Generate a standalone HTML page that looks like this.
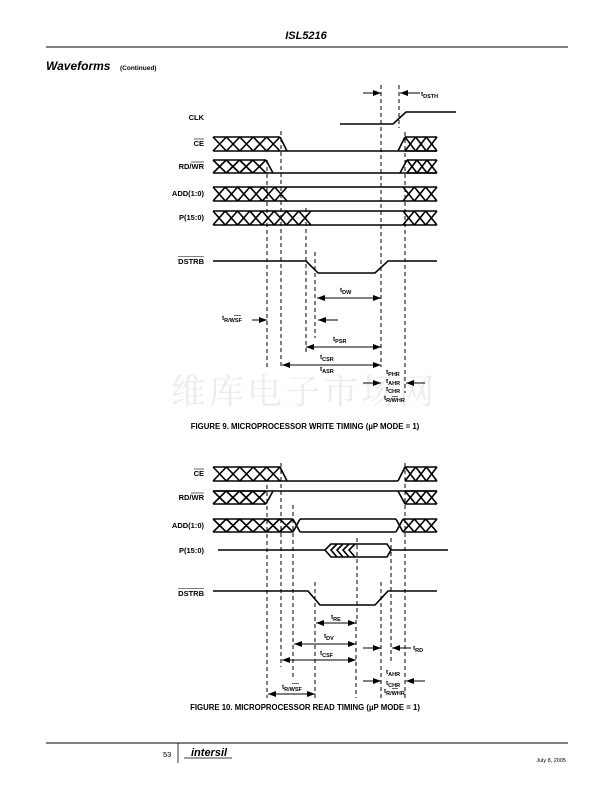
<!DOCTYPE html>
<html><head><meta charset="utf-8"><style>
html,body{margin:0;padding:0;background:#fff;}
svg{display:block;}
text{font-family:"Liberation Sans",Arial,sans-serif;font-weight:bold;fill:#000;}
</style></head><body>
<svg id="s" width="612" height="792" viewBox="0 0 612 792" xmlns="http://www.w3.org/2000/svg">
<defs>
<marker id="a" markerWidth="8" markerHeight="6" refX="8" refY="3" orient="auto" markerUnits="userSpaceOnUse"><path d="M0,0 L8,3 L0,6 Z" fill="#000"/></marker>
<marker id="b" markerWidth="8" markerHeight="6" refX="0" refY="3" orient="auto" markerUnits="userSpaceOnUse"><path d="M8,0 L0,3 L8,6 Z" fill="#000"/></marker>
</defs>
<!-- header -->
<text x="306" y="39" text-anchor="middle" font-size="11" font-style="italic">ISL5216</text>
<line x1="46" y1="47" x2="568" y2="47" stroke="#000" stroke-width="1"/>
<text x="46" y="70" font-size="12" font-style="italic">Waveforms</text>
<text x="120" y="70" font-size="6.5">(Continued)</text>

<!-- watermark -->
<text x="304" y="404" text-anchor="middle" font-size="35" style="font-family:'Noto Serif CJK SC',serif;font-weight:normal;fill:#ececec" letter-spacing="3">维库电子市场网</text>

<g id="w" stroke="#000" fill="none" stroke-width="1.6"></g>
<g id="d" stroke="#000" fill="none" stroke-width="1" stroke-dasharray="4,3"></g>
<g id="ar" stroke="#000" fill="none" stroke-width="1"></g>

<g font-size="7.5" text-anchor="end">
<text x="204" y="120">CLK</text>
<text x="204" y="146">CE</text>
<text x="204" y="169">RD/WR</text>
<text x="204" y="196">ADD(1:0)</text>
<text x="204" y="220">P(15:0)</text>
<text x="204" y="264">DSTRB</text>
<text x="204" y="476">CE</text>
<text x="204" y="500">RD/WR</text>
<text x="204" y="528">ADD(1:0)</text>
<text x="204" y="553">P(15:0)</text>
<text x="204" y="596">DSTRB</text>
</g>
<g stroke="#000" stroke-width="0.6">
<line x1="194" y1="139" x2="204" y2="139"/>
<line x1="191" y1="162" x2="204" y2="162"/>
<line x1="178" y1="256.5" x2="204" y2="256.5"/>
<line x1="194" y1="469" x2="204" y2="469"/>
<line x1="191" y1="493" x2="204" y2="493"/>
<line x1="178" y1="588.5" x2="204" y2="588.5"/>
<line x1="234" y1="315.5" x2="241" y2="315.5"/>
<line x1="392" y1="396.5" x2="398" y2="396.5"/>
<line x1="292" y1="683.5" x2="299" y2="683.5"/>
<line x1="392" y1="688.5" x2="398" y2="688.5"/>
</g>
<g font-size="6.5">
<text x="421" y="96">t<tspan font-size="5.5" dy="2">DSTH</tspan></text>
<text x="340" y="292">t<tspan font-size="5.5" dy="2">DW</tspan></text>
<text x="222" y="320">t<tspan font-size="5.5" dy="2">R/WSF</tspan></text>
<text x="333" y="341">t<tspan font-size="5.5" dy="2">PSR</tspan></text>
<text x="320" y="359">t<tspan font-size="5.5" dy="2">CSR</tspan></text>
<text x="320" y="371">t<tspan font-size="5.5" dy="2">ASR</tspan></text>
<text x="386" y="374">t<tspan font-size="5.5" dy="2">PHR</tspan></text>
<text x="386" y="383">t<tspan font-size="5.5" dy="2">AHR</tspan></text>
<text x="386" y="391">t<tspan font-size="5.5" dy="2">CHR</tspan></text>
<text x="384" y="400">t<tspan font-size="5.5" dy="2">R/WHR</tspan></text>
<text x="331" y="619">t<tspan font-size="5.5" dy="2">RE</tspan></text>
<text x="324" y="638">t<tspan font-size="5.5" dy="2">DV</tspan></text>
<text x="320" y="655">t<tspan font-size="5.5" dy="2">CSF</tspan></text>
<text x="413" y="650">t<tspan font-size="5.5" dy="2">RD</tspan></text>
<text x="282" y="689">t<tspan font-size="5.5" dy="2">R/WSF</tspan></text>
<text x="386" y="674">t<tspan font-size="5.5" dy="2">AHR</tspan></text>
<text x="386" y="685">t<tspan font-size="5.5" dy="2">CHR</tspan></text>
<text x="384" y="693">t<tspan font-size="5.5" dy="2">R/WHR</tspan></text>
</g>
<text x="305" y="429" text-anchor="middle" font-size="7.8">FIGURE 9.  MICROPROCESSOR WRITE TIMING (µP MODE = 1)</text>
<text x="305" y="710" text-anchor="middle" font-size="7.8">FIGURE 10.  MICROPROCESSOR READ TIMING (µP MODE = 1)</text>

<!-- footer -->
<line x1="46" y1="743" x2="568" y2="743" stroke="#000" stroke-width="1"/>
<line x1="178" y1="743" x2="178" y2="763" stroke="#000" stroke-width="0.8"/>
<text x="163" y="757" font-size="7.5" style="font-weight:normal">53</text>
<text x="191" y="756" font-size="11" style="font-style:italic">intersil</text>
<line x1="184" y1="758" x2="232" y2="758" stroke="#000" stroke-width="0.8"/>
<text x="566" y="762" text-anchor="end" font-size="5.5" style="font-weight:normal">July 8, 2005</text>
</svg>
<script>
var w=document.getElementById('w'),d=document.getElementById('d'),ar=document.getElementById('ar');
var NS='http://www.w3.org/2000/svg';
function P(g,dd,extra){var p=document.createElementNS(NS,'path');p.setAttribute('d',dd);if(extra)for(var k in extra)p.setAttribute(k,extra[k]);g.appendChild(p);}
function X(x0,x1,t,b,n){var c=(x1-x0)/n,s='';for(var i=0;i<n;i++){var a=x0+i*c;s+='M'+a+','+t+'L'+(a+c)+','+b+'M'+a+','+b+'L'+(a+c)+','+t;}s+='M'+x0+','+t+'L'+x1+','+t+'M'+x0+','+b+'L'+x1+','+b;P(w,s);}
function L(s){P(w,s);}
function D(x,y0,y1){P(d,'M'+x+','+y0+'L'+x+','+y1);}
function A(x0,x1,y,both){var e={};if(both){e['marker-start']='url(#b)';}e['marker-end']='url(#a)';P(ar,'M'+x0+','+y+'L'+x1+','+y,e);}
// FIG 9
L('M340,124L393,124L406,112L456,112');
X(213,280,137,151,5);L('M280,137L287,151M280,151L437,151');X(405,437,137,151,3);L('M398,151L405,137');
X(213,266,160,173,4);L('M266,160L273,173M266,173L437,173');X(407,437,160,173,3);L('M400,173L407,160');
X(213,287,187,201,6);L('M287,187L403,187M287,201L403,201');X(403,437,187,201,3);
X(213,311,211,225,8);L('M311,211L403,211M311,225L403,225');X(403,437,211,225,3);
L('M213,261L306,261L318,273L375,273L388,261L437,261');
D(381,85,367);D(399,85,128);D(405,132,393);D(267,160,367);D(281,131,369);D(306,208,352);D(315,252,338);
A(363,381,93);A(420,400,93);
A(317,381,298,1);A(252,267,320);A(338,318,320);A(306,381,347,1);A(282,381,365,1);
A(363,381,383);A(425,406,383);
// FIG 10
X(213,280,467,481,5);L('M280,467L287,481M280,481L398,481');X(405,437,467,481,3);L('M398,481L405,467');
L('M213,491L437,491');X(213,266,491,504,4);L('M266,504L273,491');X(405,437,491,504,3);L('M398,491L405,504');
X(213,293,519,532,6);L('M293,519L300,532M293,532L300,519M300,519L396,519M300,532L396,532');X(403,437,519,532,3);L('M396,519L403,532M396,532L403,519');
L('M218,550L325,550L331,544L387,544L391,550L387,557L331,557L325,550M391,550L448,550');
L('M337,544L331,550L337,557M343,544L337,550L343,557M349,544L343,550L349,557M355,544L349,550L355,557');
L('M213,591L308,591L320,605L375,605L388,591L437,591');
D(267,485,698);D(281,463,667);D(293,505,677);D(315,582,698);D(357,538,620);D(356,620,698);D(381,582,698);D(391,538,662);D(405,463,698);
A(316,356,623,1);A(294,356,644,1);A(282,356,660,1);A(268,315,694,1);
A(363,381,648);A(411,392,648);A(363,381,681);A(425,406,681);
</script>
</body></html>
